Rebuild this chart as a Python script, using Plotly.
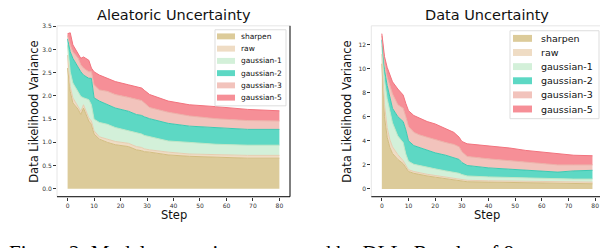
import plotly.graph_objects as go

# ---------------- data ----------------
series_names = ["sharpen", "raw", "gaussian-1", "gaussian-2", "gaussian-3", "gaussian-5"]

# Aleatoric Uncertainty (upper boundary of each band)
aleatoric_steps = [0, 1, 2, 4, 5, 6, 8, 9, 10, 12, 15, 18, 23, 26, 28, 29, 31, 38, 46, 56, 68, 80]
aleatoric_sharpen = [2.60, 2.10, 1.85, 1.71, 1.60, 1.74, 1.46, 1.39, 1.18, 1.07, 1.00, 0.95, 0.91, 0.84, 0.82, 0.80, 0.79, 0.73, 0.70, 0.68, 0.66, 0.66]
aleatoric_raw = [2.88, 2.20, 1.96, 1.78, 1.67, 1.81, 1.53, 1.46, 1.25, 1.12, 1.07, 1.02, 0.98, 0.91, 0.89, 0.86, 0.84, 0.79, 0.75, 0.73, 0.72, 0.72]
aleatoric_g1 = [3.09, 2.52, 2.28, 2.10, 1.99, 1.96, 1.92, 1.81, 1.50, 1.43, 1.39, 1.32, 1.25, 1.21, 1.18, 1.15, 1.12, 1.03, 1.00, 0.96, 0.94, 0.94]
aleatoric_g2 = [3.23, 2.95, 2.81, 2.60, 2.52, 2.45, 2.38, 2.38, 1.96, 1.89, 1.81, 1.74, 1.67, 1.60, 1.58, 1.55, 1.51, 1.41, 1.35, 1.32, 1.28, 1.28]
aleatoric_g3 = [3.30, 3.09, 2.95, 2.81, 2.67, 2.60, 2.52, 2.52, 2.24, 2.13, 2.10, 2.03, 1.97, 1.92, 1.90, 1.85, 1.75, 1.65, 1.57, 1.51, 1.47, 1.46]
aleatoric_g5 = [3.34, 3.36, 3.10, 2.91, 2.81, 2.84, 2.77, 2.60, 2.52, 2.45, 2.38, 2.31, 2.24, 2.20, 2.17, 2.12, 2.03, 1.89, 1.81, 1.77, 1.71, 1.68]

# Data Uncertainty
data_steps = [0, 1, 2, 3, 4, 6, 8, 9, 10, 12, 14, 17, 20, 24, 27, 29, 30, 32, 40, 48, 54, 60, 66, 72, 79]
data_sharpen = [10.4, 6.0, 4.3, 3.45, 2.95, 2.45, 2.1, 1.75, 1.45, 1.3, 1.2, 1.08, 0.98, 0.85, 0.79, 0.72, 0.68, 0.60, 0.57, 0.55, 0.52, 0.50, 0.48, 0.45, 0.43]
data_raw = [11.2, 7.0, 5.1, 4.1, 3.5, 2.85, 2.35, 2.0, 1.6, 1.45, 1.34, 1.22, 1.12, 1.0, 0.93, 0.85, 0.80, 0.72, 0.68, 0.65, 0.62, 0.62, 0.60, 0.58, 0.57]
data_g1 = [11.9, 9.0, 7.5, 6.45, 5.5, 4.4, 3.85, 2.9, 2.3, 2.05, 1.94, 1.8, 1.67, 1.5, 1.4, 1.3, 1.2, 1.08, 1.0, 0.95, 0.9, 0.87, 0.85, 0.82, 0.82]
data_g2 = [12.4, 9.9, 8.6, 7.55, 6.7, 6.0, 5.6, 4.9, 4.0, 3.6, 3.45, 3.2, 3.0, 2.8, 2.6, 2.45, 2.2, 1.95, 1.75, 1.65, 1.55, 1.48, 1.40, 1.50, 1.55]
data_g3 = [12.7, 10.5, 9.3, 8.5, 7.9, 7.0, 6.7, 6.0, 5.2, 4.7, 4.5, 4.3, 4.1, 3.85, 3.7, 3.5, 3.1, 2.7, 2.5, 2.35, 2.2, 2.1, 2.0, 2.0, 2.0]
data_g5 = [12.9, 11.0, 10.1, 9.5, 8.9, 8.3, 7.8, 7.1, 6.5, 6.1, 5.9, 5.6, 5.4, 5.0, 4.7, 4.3, 3.95, 3.75, 3.6, 3.4, 3.2, 3.05, 2.9, 2.8, 2.76]

x_ticks = [0, 10, 20, 30, 40, 50, 60, 70, 80]
aleatoric_yticks = [0.0, 0.5, 1.0, 1.5, 2.0, 2.5, 3.0, 3.5]
data_yticks = [0, 2, 4, 6, 8, 10, 12]

titles = ["Aleatoric Uncertainty", "Data Uncertainty"]
x_title = "Step"
y_title = "Data Likelihood Variance"
caption = "Figure 2: Model uncertainty measured by DLL. Results of 8"

# ---------------- styles ----------------
fill_colors = ["#dccb9a", "#efdcc4", "#d3f0d9", "#5dd8c4", "#f2c3bc", "#f68f97"]
line_colors = ["#d2bd80", "#e6cdb0", "#bfe6c6", "#3cc9b2", "#ecb0a8", "#f2737e"]

FONT = "DejaVu Sans"
W, H = 608, 248


def px(x):
    return x / W


def py(y):
    return 1 - y / H


fig = go.Figure()

panels = [
    (aleatoric_steps, [aleatoric_sharpen, aleatoric_raw, aleatoric_g1, aleatoric_g2, aleatoric_g3, aleatoric_g5], "x", "y"),
    (data_steps, [data_sharpen, data_raw, data_g1, data_g2, data_g3, data_g5], "x2", "y2"),
]

for steps, ser, xa, ya in panels:
    for i, (name, vals) in enumerate(zip(series_names, ser)):
        fig.add_trace(go.Scatter(
            x=steps, y=vals, name=name, mode="lines",
            fill="tozeroy" if i == 0 else "tonexty",
            fillcolor=fill_colors[i],
            line=dict(color=line_colors[i], width=1),
            xaxis=xa, yaxis=ya, hoverinfo="skip", showlegend=False,
        ))

ydom = [py(188), py(15)]
xdom1 = [px(49), px(282)]
xdom2 = [px(363.3), px(595)]

tick_font = dict(family=FONT, size=6, color="#333333")
axis_common = dict(
    showgrid=False, zeroline=False, ticks="outside", ticklen=3, tickwidth=0.8,
    tickcolor="#333333", tickfont=tick_font, showline=False,
)

fig.update_layout(
    width=W, height=H,
    margin=dict(l=0, r=0, t=0, b=0),
    paper_bgcolor="white", plot_bgcolor="white",
    font=dict(family=FONT, color="black"),
    showlegend=False,
    xaxis=dict(domain=xdom1, range=[-4, 84], tickvals=x_ticks, anchor="y", **axis_common),
    yaxis=dict(domain=ydom, range=[-0.17, 3.51], tickvals=aleatoric_yticks, ticktext=[f"{v:.1f}" for v in aleatoric_yticks],
               anchor="x", **axis_common),
    xaxis2=dict(domain=xdom2, range=[-3.95, 82.95], tickvals=x_ticks, anchor="y2", **axis_common),
    yaxis2=dict(domain=ydom, range=[-0.645, 13.55], tickvals=data_yticks, anchor="x2", **axis_common),
)

# frame: light left/top, dark right/bottom
for xr, yr in [("x domain", "y domain"), ("x2 domain", "y2 domain")]:
    fig.add_shape(type="line", xref=xr, yref=yr, x0=0, x1=0, y0=0, y1=1, line=dict(color="#e6e6e6", width=1))
    fig.add_shape(type="line", xref=xr, yref=yr, x0=0, x1=1, y0=1, y1=1, line=dict(color="#e6e6e6", width=1))
    fig.add_shape(type="line", xref=xr, yref=yr, x0=1, x1=1, y0=0, y1=1, line=dict(color="black", width=1))
    fig.add_shape(type="line", xref=xr, yref=yr, x0=0, x1=1, y0=0, y1=0, line=dict(color="black", width=1))

# legends drawn manually (box, patches, labels)
legend_specs = [
    dict(box=(207, 278, 19, 96), y0=25.7, dy=12.4, patch=(209, 227), ph=6, tx=232, fs=7.5),
    dict(box=(502, 591, 20, 109), y0=27.7, dy=14.3, patch=(505, 524), ph=7, tx=532, fs=9.5),
]
for spec in legend_specs:
    bx0, bx1, by0, by1 = spec["box"]
    fig.add_shape(type="rect", xref="paper", yref="paper", x0=px(bx0), x1=px(bx1), y0=py(by1), y1=py(by0),
                  line=dict(color="#dddddd", width=1), fillcolor="rgba(255,255,255,0.9)", layer="above")
    for i, name in enumerate(series_names):
        cy = spec["y0"] + i * spec["dy"]
        fig.add_shape(type="rect", xref="paper", yref="paper",
                      x0=px(spec["patch"][0]), x1=px(spec["patch"][1]),
                      y0=py(cy + spec["ph"] / 2), y1=py(cy - spec["ph"] / 2),
                      line=dict(width=0), fillcolor=fill_colors[i], layer="above")
        fig.add_annotation(text=name, xref="paper", yref="paper", x=px(spec["tx"]), y=py(cy),
                           xanchor="left", yanchor="middle", showarrow=False, borderpad=0,
                           font=dict(family=FONT, size=spec["fs"], color="#111111"))

# subplot titles and axis titles
axis_title_font = dict(family=FONT, size=11.5, color="#111111")
for title, xd, xc, yc in zip(titles, [xdom1, xdom2], [165.5, 479], [26, 339]):
    fig.add_annotation(text=title, xref="paper", yref="paper", x=(xd[0] + xd[1]) / 2, y=py(13.5),
                       xanchor="center", yanchor="bottom", showarrow=False, borderpad=0,
                       font=dict(family=FONT, size=14.5, color="#111111"))
    fig.add_annotation(text=x_title, xref="paper", yref="paper", x=px(xc), y=py(207),
                       xanchor="center", yanchor="middle", showarrow=False, borderpad=0,
                       font=axis_title_font)
    fig.add_annotation(text=y_title, xref="paper", yref="paper", x=px(yc), y=py(102),
                       xanchor="center", yanchor="middle", showarrow=False, borderpad=0,
                       textangle=-90, font=axis_title_font)

# caption (cut off at the bottom in the reference)
fig.add_annotation(text=caption, xref="paper", yref="paper", x=0.0, y=py(232),
                   xanchor="left", yanchor="top", showarrow=False, borderpad=0,
                   font=dict(family="Liberation Serif", size=21, color="black"))

fig.write_html("out.html")
